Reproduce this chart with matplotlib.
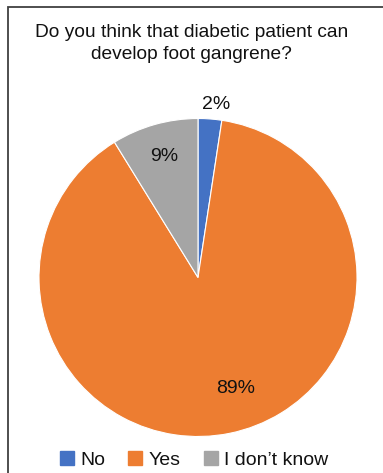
import matplotlib
matplotlib.use("Agg")
import matplotlib.pyplot as plt
import numpy as np

title = "Do you think that diabetic patient can\ndevelop foot gangrene?"
categories = ["No", "Yes", "I don\u2019t know"]
values = [2.4, 88.8, 8.8]
labels = ["2%", "89%", "9%"]
colors = ["#4472C4", "#ED7D31", "#A5A5A5"]

plt.rcParams["font.family"] = ["Liberation Sans", "DejaVu Sans"]

W, H = 383, 473
fig = plt.figure(figsize=(W / 100, H / 100), dpi=100)

# border frame
frame = plt.Rectangle((8 / W, -0.01), 1.0, 1 - 7 / H + 0.01, transform=fig.transFigure,
                      fill=False, edgecolor="#404040", linewidth=1.3)
fig.patches.append(frame)

cx, cy, r = 198, 277.5, 159
ax = fig.add_axes([(cx - r) / W, (H - cy - r) / H, 2 * r / W, 2 * r / H])
wedges, _ = ax.pie(values, colors=colors, startangle=90, counterclock=False,
                   radius=1.0, wedgeprops=dict(edgecolor="white", linewidth=0.8))
ax.set_xlim(-1, 1)
ax.set_ylim(-1, 1)
ax.set_aspect("equal")
ax.axis("off")

# label placement (distance from centre, angle tweak, x shift)
place = {0: (1.09, 0.0, 0.035), 1: (0.74, 7.3, 0.0), 2: (0.79, 0.0, 0.0)}
for i, w in enumerate(wedges):
    mid = np.deg2rad((w.theta1 + w.theta2) / 2 + place[i][1])
    d = place[i][0]
    ax.text(d * np.cos(mid) + place[i][2], d * np.sin(mid), labels[i],
            ha="center", va="center", fontsize=14, color="#111111", clip_on=False)

fig.text(191.5 / W, 1 - 43.5 / H, title, ha="center", va="center", fontsize=13.8,
         color="#111111", linespacing=1.45)

handles = [plt.Rectangle((0, 0), 1, 1, color=c) for c in colors]
fig.legend(handles, categories, loc="center", bbox_to_anchor=(194 / W, 1 - 460 / H),
           ncol=3, frameon=False, fontsize=14, handlelength=0.72, handleheight=0.72,
           handletextpad=0.31, columnspacing=1.2, borderaxespad=0, labelcolor="#111111")

fig.savefig("out.png", dpi=100)
